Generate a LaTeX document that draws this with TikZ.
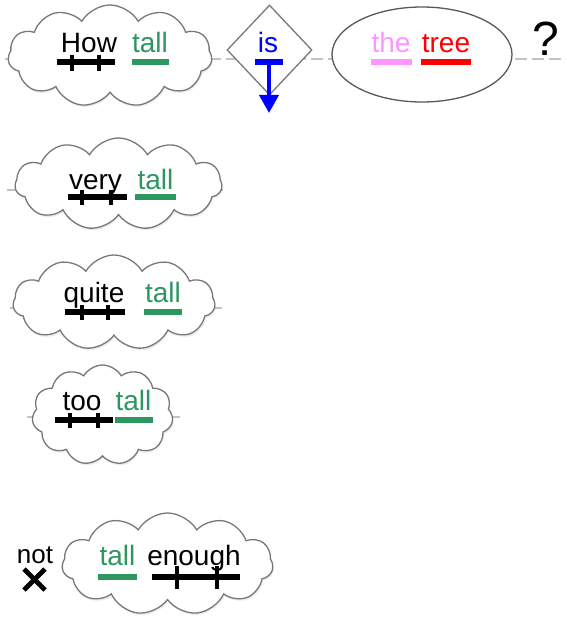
\documentclass[tikz,border=0pt]{standalone}
\usepackage{fontspec}
\setmainfont{Liberation Sans}
\usetikzlibrary{shapes.symbols,shapes.geometric,arrows.meta,shadows}
\definecolor{tgreen}{RGB}{46,150,96}
\definecolor{tpink}{RGB}{255,150,255}
\definecolor{tblue}{RGB}{0,0,255}
\definecolor{tred}{RGB}{255,0,0}
\definecolor{guidegray}{RGB}{195,195,195}
\definecolor{outlinegray}{RGB}{120,120,120}
\begin{document}
\begin{tikzpicture}[x=1pt,y=-1pt,
  cloudbox/.style={cloud, cloud puffs=11, cloud puff arc=120, cloud ignores aspect,
    draw=outlinegray, line width=1.3pt, fill=white, inner sep=0pt,
    drop shadow={opacity=0.15, shadow xshift=1pt, shadow yshift=-2pt}},
  diamondbox/.style={diamond, draw=outlinegray, line width=1.3pt, fill=white, inner sep=0pt,
    minimum width=85pt, minimum height=90pt},
  ellipsebox/.style={ellipse, draw=black!65, line width=1.3pt, fill=white, inner sep=0pt,
    minimum width=180pt, minimum height=95pt},
  guideline/.style={draw=guidegray, line width=1.2pt},
  guidedash/.style={guideline, dash pattern=on 12pt off 5pt},
  word/.style={font=\fontsize{28}{30}\selectfont, inner sep=0pt, anchor=base},
  bar/.style={line width=6.5pt},
  tick/.style={line width=3.4pt, black},
]
\useasboundingbox (0,0) rectangle (566,620);

% guide lines
\coordinate (g1s) at (5,59);  \coordinate (g1e) at (566,59);
\coordinate (g2s) at (7,190); \coordinate (g2e) at (223,190);
\coordinate (g3s) at (10,308); \coordinate (g3e) at (222,308);
\coordinate (g4s) at (27,417); \coordinate (g4e) at (180,417);
\draw[guidedash] (g1s) -- (g1e);
\draw[guideline] (g2s) -- (g2e);
\draw[guideline] (g3s) -- (g3e);
\draw[guideline] (g4s) -- (g4e);

% shapes
\node[cloudbox, minimum width=204pt, minimum height=102pt] (c1) at (110,56) {};
\node[diamondbox] (d1) at (269.5,50) {};
\node[ellipsebox] (e1) at (422,54.5) {};
\node[cloudbox, minimum width=207pt, minimum height=92pt] (c2) at (118.5,184) {};
\node[cloudbox, minimum width=202pt, minimum height=95pt] (c3) at (114,302.5) {};
\node[cloudbox, minimum width=141pt, minimum height=100pt] (c4) at (102.5,415) {};
\node[cloudbox, minimum width=211pt, minimum height=102pt] (c5) at (167.5,564) {};

% row 1
\node[word] (how) at (89,53) {How};
\node[word, text=tgreen] (tall1) at (150,53) {tall};
\node[word, text=tblue] (is) at (268,53) {is};
\node[word, text=tpink] (the) at (391,53) {the};
\node[word, text=tred] (tree) at (446,53) {tree};
\node[word, font=\fontsize{48}{50}\selectfont] (qm) at (546,56) {?};

\draw[bar, black] (57,62) -- (115,62);
\draw[tick] (72,55) -- (72,71);
\draw[tick] (99,55) -- (99,71);
\draw[bar, tgreen] (132,62) -- (169,62);
\draw[bar, tblue] (255,62) -- (283,62);
\coordinate (isfoot) at (269,62);
\coordinate (istip) at (269,113);
\draw[tblue, line width=3.8pt, -{Triangle[width=19pt,length=18pt]}] (isfoot) -- (istip);
\draw[bar, tpink] (371,62) -- (412,62);
\draw[bar, tred] (421,62) -- (471,62);

% row 2
\node[word] (very) at (95.5,190) {very};
\node[word, text=tgreen] (tall2) at (155.5,190) {tall};
\draw[bar, black] (68,197) -- (127,197);
\draw[tick] (82,190) -- (82,205);
\draw[tick] (111,190) -- (111,205);
\draw[bar, tgreen] (135,197) -- (176,197);

% row 3
\node[word] (quite) at (94,302) {quite};
\node[word, text=tgreen] (tall3) at (163,302) {tall};
\draw[bar, black] (65,312) -- (125,312);
\draw[tick] (82,305) -- (82,320);
\draw[tick] (108,305) -- (108,320);
\draw[bar, tgreen] (144,312) -- (182,312);

% row 4
\node[word] (too) at (82,410) {too};
\node[word, text=tgreen] (tall4) at (133.5,410) {tall};
\draw[bar, black] (55,420) -- (113,420);
\draw[tick] (70,413) -- (70,428);
\draw[tick] (98,413) -- (98,428);
\draw[bar, tgreen] (115,420) -- (153,420);

% row 5
\node[word, font=\fontsize{26}{28}\selectfont] (not) at (35,563) {not};
\draw[line width=4.8pt] (24,569) -- (45,590);
\draw[line width=4.8pt] (24,590) -- (45,569);
\node[word, text=tgreen] (tall5) at (117.5,565) {tall};
\node[word] (enough) at (194,565) {enough};
\draw[bar, tgreen] (98,577) -- (137,577);
\draw[bar, black] (152,577) -- (240,577);
\draw[tick] (177,566) -- (177,589);
\draw[tick] (217,566) -- (217,589);
\end{tikzpicture}
\end{document}
